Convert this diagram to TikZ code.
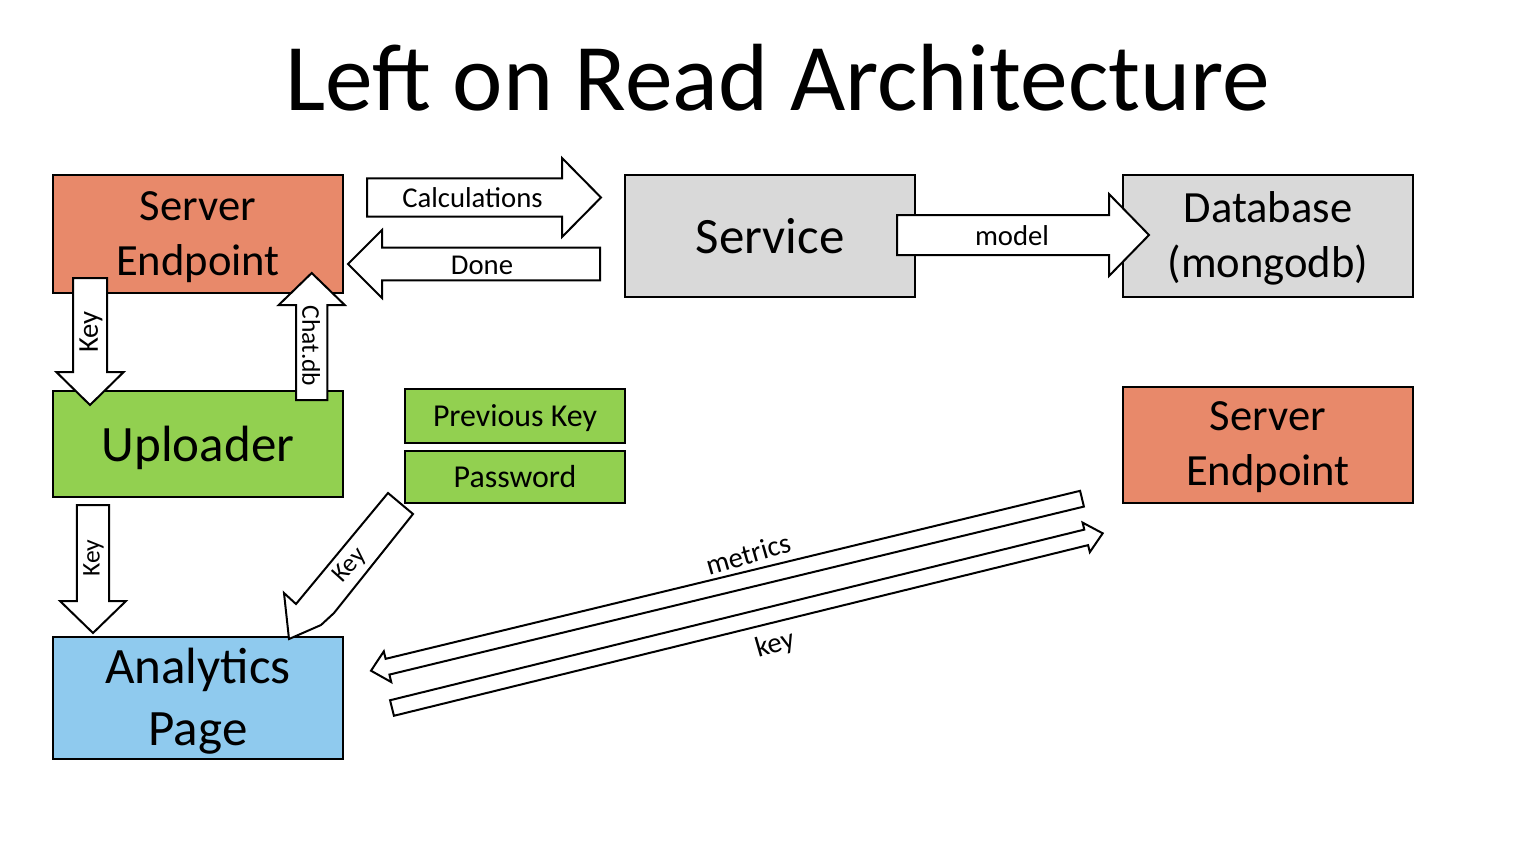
\documentclass[tikz,border=0pt]{standalone}
\usepackage{fontspec}
\setmainfont{Carlito}
\usetikzlibrary{calc}
\definecolor{seorange}{RGB}{232,137,106}
\definecolor{svgray}{RGB}{217,217,217}
\definecolor{upgreen}{RGB}{146,208,80}
\definecolor{anblue}{RGB}{143,202,238}
\tikzset{
  box/.style={draw=black, line width=2.2pt, inner sep=0pt, align=center},
  barrowstyle/.style={draw=black, fill=white, line width=2pt, line join=miter},
  lbl/.style={inner sep=0pt, font=\fontsize{28.7}{34}\selectfont},
  slbl/.style={inner sep=0pt, font=\fontsize{25.5}{30}\selectfont},
  bigtxt/.style={font=\fontsize{51}{60}\selectfont},
  midtxt/.style={font=\fontsize{44.6}{52}\selectfont},
  smalltxt/.style={font=\fontsize{31.9}{38}\selectfont},
}
\newcommand{\lowertxt}[2]{\raisebox{-#1}[\height][\depth]{#2}}
\newcommand{\blockarrow}[5]{%
  \path ($(#2)!#5!(#1)$) coordinate (hb);
  \draw[barrowstyle] ($(#1)!#3!90:(#2)$) -- ($(hb)!#3!90:(#2)$) -- ($(hb)!#4!90:(#2)$) -- (#2)
     -- ($(hb)!#4!-90:(#2)$) -- ($(hb)!#3!-90:(#2)$) -- ($(#1)!#3!-90:(#2)$) -- cycle;
}
\begin{document}
\begin{tikzpicture}[x=1pt, y=-1pt]
\path[use as bounding box, fill=white] (0,0) rectangle (1530,844);

% title
\node[anchor=base, inner sep=0pt, font=\fontsize{95.5}{110}\selectfont] (title) at (778,110) {Left on Read Architecture};

% boxes
\node[box, fill=seorange, midtxt, minimum width=290pt, minimum height=118pt] (se1) at (198,234) {\lowertxt{4pt}{\begin{tabular}{@{}c@{}}Server\\[3pt]Endpoint\end{tabular}}};
\node[box, fill=svgray, bigtxt, minimum width=290pt, minimum height=122pt] (svc) at (770,236) {Service};
\node[box, fill=svgray, midtxt, minimum width=290pt, minimum height=122pt] (db) at (1268,236) {\lowertxt{4pt}{\begin{tabular}{@{}c@{}}Database\\[3pt](mongodb)\end{tabular}}};
\node[box, fill=upgreen, bigtxt, minimum width=290pt, minimum height=106pt] (upl) at (198,444) {\lowertxt{4pt}{Uploader}};
\node[box, fill=upgreen, smalltxt, minimum width=220pt, minimum height=54pt] (prev) at (515,416) {\lowertxt{2pt}{Previous Key}};
\node[box, fill=upgreen, smalltxt, minimum width=220pt, minimum height=52pt] (pwd) at (515,477) {Password};
\node[box, fill=seorange, midtxt, minimum width=290pt, minimum height=116pt] (se2) at (1268,445) {\lowertxt{3pt}{\begin{tabular}{@{}c@{}}Server\\[3pt]Endpoint\end{tabular}}};
\node[box, fill=anblue, bigtxt, minimum width=290pt, minimum height=122pt] (ana) at (198,698) {\lowertxt{4pt}{\begin{tabular}{@{}c@{}}Analytics\\[2pt]Page\end{tabular}}};

% arrow end points
\coordinate (calcT) at (367,197.5);  \coordinate (calcH) at (601,197.5);
\coordinate (doneT) at (600,264);    \coordinate (doneH) at (348,264);
\coordinate (modT) at (897,235);     \coordinate (modH) at (1149,235);
\coordinate (k1T) at (90,278);       \coordinate (k1H) at (90,405);
\coordinate (chT) at (311.7,400);    \coordinate (chH) at (311.7,273);
\coordinate (k2T) at (93,505);       \coordinate (k2H) at (93,633);
\coordinate (metT) at (1082,498.7);  \coordinate (metH) at (371,670.7);
\coordinate (keyT) at (392,708);     \coordinate (keyH) at (1102.7,533.3);

% block arrows
\blockarrow{calcT}{calcH}{19.2pt}{39.5pt}{39pt}
\blockarrow{doneT}{doneH}{16.3pt}{34pt}{34pt}
\blockarrow{modT}{modH}{20pt}{41pt}{40pt}
\blockarrow{k1T}{k1H}{17pt}{33.7pt}{33pt}
\blockarrow{chT}{chH}{15.7pt}{33pt}{32pt}
\blockarrow{k2T}{k2H}{16.2pt}{33pt}{32pt}
\blockarrow{metT}{metH}{8.1pt}{15.8pt}{17pt}
\blockarrow{keyT}{keyH}{8pt}{15.2pt}{17pt}

% diagonal key arrow (Password -> Analytics Page)
\coordinate (dkT) at (400.5,503.5);
\coordinate (dkH) at (289,639);
\draw[barrowstyle] (388,493) -- (413,514) -- (334,613) -- (321,625) -- (dkH) -- (284,593) -- (296,604) -- cycle;

% labels
\node[lbl] (lcalc) at (472.5,198) {Calculations};
\node[lbl] (ldone) at (482,265) {Done};
\node[lbl] (lmod) at (1012,236) {model};
\node[lbl, rotate=90] (lk1) at (91,332) {Key};
\node[slbl, rotate=-90] (lch) at (311,346) {Chat.db};
\node[slbl, rotate=90] (lk2) at (93.5,558) {Key};
\node[slbl, rotate=48] (ldk) at (350,566) {Key};
\node[lbl, rotate=16] (lmet) at (748,554) {metrics};
\node[lbl, rotate=16] (lkey) at (775,645) {key};
\end{tikzpicture}
\end{document}
